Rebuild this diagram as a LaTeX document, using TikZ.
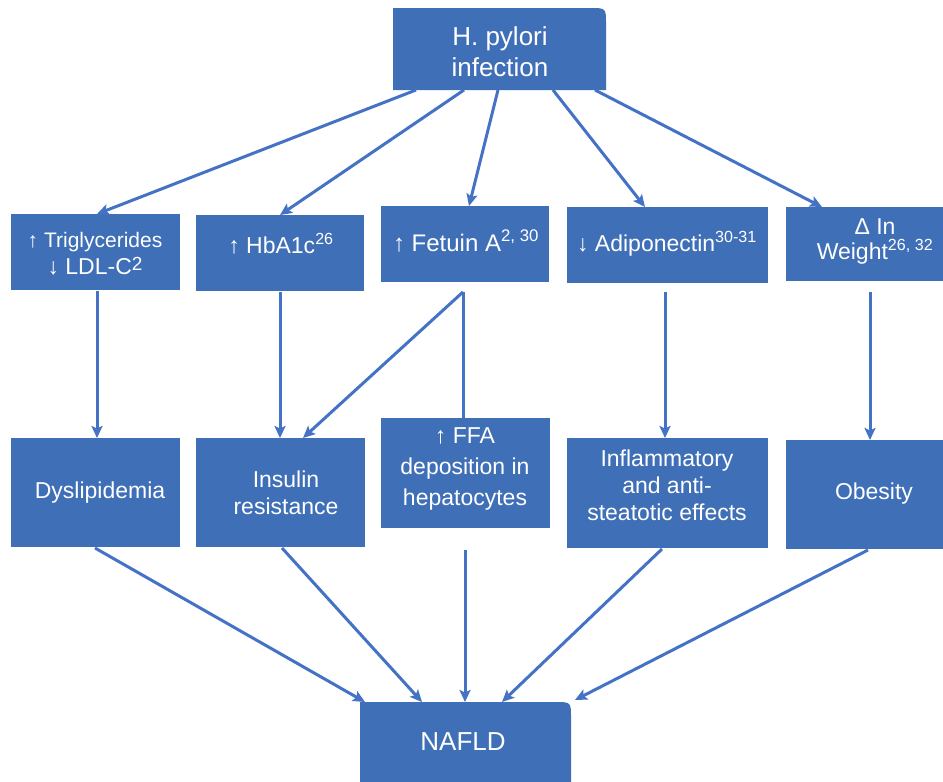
\documentclass[tikz,border=0pt]{standalone}
\usepackage{fontspec}
\setmainfont{Liberation Sans}
\usetikzlibrary{calc,arrows.meta}
\definecolor{boxblue}{HTML}{3F6FB6}
\definecolor{lineblue}{HTML}{4472C4}
\begin{document}
\begin{tikzpicture}[x=1pt,y=-1pt,
  box/.style={fill=boxblue,draw=none,inner sep=0pt,outer sep=0pt,anchor=north west},
  txt/.style={text=white,align=center,inner sep=0pt,font=\fontsize{23}{27}\selectfont},
  big/.style={font=\fontsize{26}{31}\selectfont},
  arr/.style={draw=lineblue,line width=3pt,-{Stealth[length=12pt,width=11pt,inset=2.5pt]}},
  plain/.style={draw=lineblue,line width=3pt}]
\fill[white] (0,0) rectangle (943,782);
\useasboundingbox (0,0) rectangle (943,782);
% top box
\node[box,fill=none,minimum width=213pt,minimum height=82pt] (hp) at (393,8) {};
\fill[boxblue] (hp.south west) -- (hp.north west) -- ($(hp.north east)+(-16,0)$) .. controls (hp.north east) .. ($(hp.north east)+(0,16)$) -- (hp.south east) -- cycle;
\node[txt,big] (hpt) at (500,52) {H. pylori\\infection};
% middle row
\node[box,minimum width=169pt,minimum height=76pt] (tri) at (11,214) {};
\node[box,minimum width=168pt,minimum height=76pt] (hba) at (196,215) {};
\node[box,minimum width=168pt,minimum height=76pt] (fet) at (381,206) {};
\node[box,minimum width=201pt,minimum height=76pt] (adi) at (567,207) {};
\node[box,minimum width=157pt,minimum height=74pt] (wgt) at (786,207) {};
\node[txt] (trit) at (95,254) {\fontsize{21}{29}\selectfont ↑ Triglycerides\\↓ LDL-C\raisebox{0.35ex}{\fontsize{19}{19}\selectfont 2}};
\node[txt] (hbat) at (281,244) {↑ HbA1c\textsuperscript{26}};
\node[txt,font=\fontsize{24}{28}\selectfont] (fett) at (466,241) {↑ Fetuin A\textsuperscript{2, 30}};
\node[txt] (adit) at (667,244) {↓ Adiponectin\textsuperscript{30-31}};
\node[txt,font=\fontsize{23}{25}\selectfont] (wgtt) at (875,241) {Δ In\\Weight\textsuperscript{26, 32}};
% bottom row
\node[box,minimum width=169pt,minimum height=109pt] (dys) at (11,438) {};
\node[box,minimum width=169pt,minimum height=109pt] (ins) at (196,438) {};
\node[box,minimum width=169pt,minimum height=110pt] (ffa) at (381,418) {};
\node[box,minimum width=201pt,minimum height=110pt] (inf) at (567,438) {};
\node[box,minimum width=157pt,minimum height=109pt] (obe) at (786,440) {};
\node[txt] (dyst) at (100,493) {Dyslipidemia};
\node[txt] (inst) at (286,493) {Insulin\\resistance};
\node[txt,font=\fontsize{23}{31}\selectfont] (ffat) at (465,469) {↑ FFA\\deposition in\\hepatocytes};
\node[txt] (inft) at (667,485) {Inflammatory\\and anti-\\steatotic effects};
\node[txt] (obet) at (874,494) {Obesity};
% NAFLD
\node[box,fill=none,minimum width=211pt,minimum height=80pt] (naf) at (360,702) {};
\fill[boxblue] (naf.south west) -- (naf.north west) -- ($(naf.north east)+(-16,0)$) .. controls (naf.north east) .. ($(naf.north east)+(0,16)$) -- (naf.south east) -- cycle;
\node[txt,big] (naft) at (463,742) {NAFLD};
% connectors top
\draw[arr] ($(hp.south west)+(23,0)$) -- ($(tri.north west)+(86,0)$);
\draw[arr] ($(hp.south west)+(71,0)$) -- ($(hba.north west)+(84,0)$);
\draw[arr] ($(hp.south west)+(105,0)$) -- ($(fet.north west)+(88,0)$);
\draw[arr] ($(hp.south west)+(160,0)$) -- ($(adi.north west)+(78,0)$);
\draw[arr] ($(hp.south west)+(202,0)$) -- ($(wgt.north west)+(36,0)$);
% connectors middle
\draw[arr] ($(tri.south west)+(86,1)$) -- ($(dys.north west)+(86,0)$);
\draw[arr] ($(hba.south west)+(84,1)$) -- ($(ins.north west)+(84,0)$);
\draw[arr] ($(fet.south west)+(82,10)$) -- ($(ins.north west)+(107,0)$);
\draw[plain] ($(fet.south west)+(82,10)$) -- (ffa.north west -| {$(fet.south west)+(82,10)$});
\draw[arr] ($(adi.south west)+(98,9)$) -- ($(inf.north west)+(98,0)$);
\draw[arr] ($(wgt.south west)+(84,11)$) -- ($(obe.north west)+(84,0)$);
% connectors bottom
\draw[arr] ($(dys.south west)+(84,1)$) -- ($(naf.north west)+(5,0)$);
\draw[arr] ($(ins.south west)+(86,1)$) -- ($(naf.north west)+(62,0)$);
\draw[arr] ($(ffa.south west)+(84,22)$) -- ($(naf.north west)+(105,0)$);
\draw[arr] ($(inf.south west)+(95,1)$) -- ($(naf.north west)+(142,0)$);
\draw[arr] ($(obe.south west)+(82,1)$) -- ($(naf.north west)+(215,-2)$);
\end{tikzpicture}
\end{document}
